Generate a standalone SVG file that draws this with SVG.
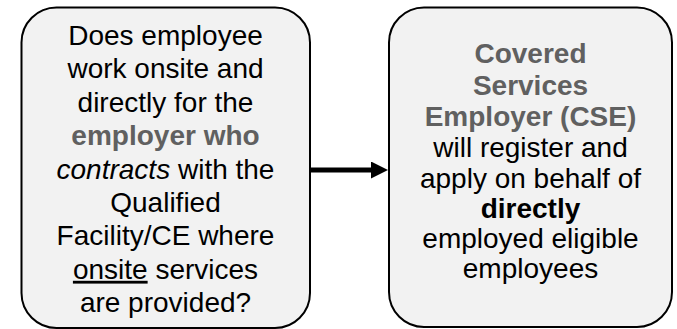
<svg xmlns="http://www.w3.org/2000/svg" width="677" height="329" viewBox="0 0 677 329">
<style>
.box{fill:#f2f2f2;stroke:#000;stroke-width:2}
.t{font-family:"Liberation Sans",Arial,sans-serif;font-size:28px;fill:#000;text-anchor:middle}
.g{font-weight:bold;fill:#606060}
.b{font-weight:bold}
.i{font-style:italic}
.u{text-decoration:underline}
</style>
<defs>
<marker id="ah" markerWidth="3.4" markerHeight="3.4" refX="0" refY="1.7" orient="auto" markerUnits="strokeWidth" viewBox="0 0 3.4 3.4">
<path d="M0,0 L3.4,1.7 L0,3.4 Z" fill="#000"/>
</marker>
</defs>
<g id="node-question">
<rect class="box" x="21.5" y="7.5" width="288.5" height="320.5" rx="35" ry="35"/>
<text class="t" x="165.5" y="45">Does employee</text>
<text class="t" x="165.5" y="78.4">work onsite and</text>
<text class="t" x="165.5" y="111.8">directly for the</text>
<text class="t g" x="165.5" y="145.2">employer who</text>
<text class="t" x="165.5" y="178.6"><tspan class="i">contracts</tspan> with the</text>
<text class="t" x="165.5" y="212">Qualified</text>
<text class="t" x="165.5" y="245.4">Facility/CE where</text>
<text class="t" x="165.5" y="278.8"><tspan class="u">onsite</tspan> services</text>
<text class="t" x="165.5" y="312.2">are provided?</text>
</g>
<g id="node-cse">
<rect class="box" x="389" y="7.5" width="283" height="319.5" rx="35" ry="35"/>
<text class="t g" x="530.5" y="63">Covered</text>
<text class="t g" x="530.5" y="94.5">Services</text>
<text class="t g" x="530.5" y="126">Employer (CSE)</text>
<text class="t" x="530.5" y="157">will register and</text>
<text class="t" x="530.5" y="187.5">apply on behalf of</text>
<text class="t b" x="530.5" y="218">directly</text>
<text class="t" x="530.5" y="248">employed eligible</text>
<text class="t" x="530.5" y="278">employees</text>
</g>
<g id="connectors">
<line x1="310" y1="170" x2="371" y2="170" stroke="#000" stroke-width="5" marker-end="url(#ah)"/>
</g>
</svg>
